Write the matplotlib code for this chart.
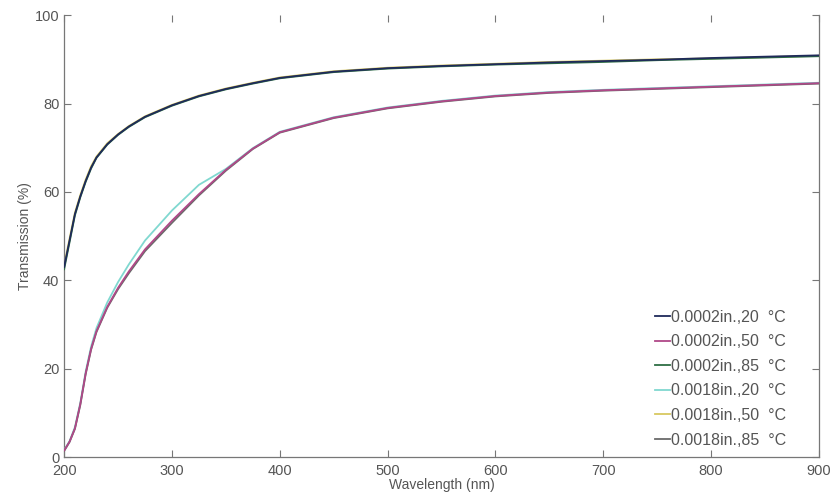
import matplotlib
matplotlib.use("Agg")
import matplotlib.pyplot as plt

plt.rcParams['font.family'] = ['Liberation Sans', 'DejaVu Sans']

wavelength = [200, 205, 210, 215, 220, 225, 230, 240, 250, 260, 275, 300, 325, 350,
              375, 400, 450, 500, 550, 600, 650, 700, 750, 800, 850, 900]

thin_20 = [43.0, 49.0, 55.0, 59.0, 62.5, 65.5, 67.8, 70.8, 73.0, 74.8, 77.0, 79.6, 81.7, 83.3,
           84.6, 85.8, 87.2, 88.0, 88.5, 88.9, 89.3, 89.6, 89.9, 90.3, 90.6, 90.9]
thin_85 = [42.5, 48.6, 54.7, 58.8, 62.3, 65.3, 67.7, 70.7, 72.9, 74.7, 76.9, 79.5, 81.6, 83.2,
           84.5, 85.7, 87.1, 87.9, 88.4, 88.8, 89.1, 89.4, 89.8, 90.1, 90.4, 90.7]
thick_50 = [43.5, 49.4, 55.3, 59.3, 62.8, 65.8, 68.0, 71.0, 73.1, 74.9, 77.1, 79.7, 81.8, 83.4,
            84.7, 85.9, 87.3, 88.1, 88.6, 89.0, 89.4, 89.7, 90.0, 90.2, 90.5, 90.8]

thin_50 = [1.5, 3.5, 6.5, 12.0, 19.0, 24.5, 28.5, 34.0, 38.3, 42.0, 47.0, 53.5, 59.5, 65.0,
           69.8, 73.5, 76.8, 79.0, 80.5, 81.7, 82.5, 83.0, 83.4, 83.8, 84.2, 84.6]
thick_20 = [1.6, 3.6, 6.8, 12.3, 19.4, 25.0, 29.2, 35.0, 39.6, 43.6, 49.0, 55.8, 61.6, 65.2,
            69.9, 73.6, 76.9, 79.1, 80.6, 81.8, 82.6, 83.1, 83.5, 83.9, 84.3, 84.7]
thick_85 = [1.4, 3.4, 6.4, 11.8, 18.8, 24.3, 28.3, 33.8, 38.0, 41.6, 46.6, 53.0, 59.2, 64.8,
            69.7, 73.4, 76.7, 78.9, 80.4, 81.6, 82.4, 82.9, 83.3, 83.7, 84.1, 84.5]

labels = ["0.0002in.,20  \u00b0C", "0.0002in.,50  \u00b0C", "0.0002in.,85  \u00b0C",
          "0.0018in.,20  \u00b0C", "0.0018in.,50  \u00b0C", "0.0018in.,85  \u00b0C"]
series = [thin_20, thin_50, thin_85, thick_20, thick_50, thick_85]
colors = ["#1f2a5a", "#b04888", "#2e6e44", "#80d8d0", "#d8c860", "#6a6a6a"]
zorders = [5, 5, 4, 3, 2, 4]

fig = plt.figure(figsize=(8.33, 5.04), dpi=100)
ax = fig.add_axes([0.077, 0.093, 0.906, 0.877])

for y, c, lab, z in zip(series, colors, labels, zorders):
    ax.plot(wavelength, y, color=c, lw=1.3, label=lab, zorder=z)

ax.set_xlim(200, 900)
ax.set_ylim(0, 100)
ax.set_xticks([200, 300, 400, 500, 600, 700, 800, 900])
ax.set_yticks([0, 20, 40, 60, 80, 100])

gray = "#555555"
for s in ['left', 'bottom', 'right']:
    ax.spines[s].set_color("#777777")
    ax.spines[s].set_linewidth(0.9)
ax.spines['top'].set_visible(False)
ax.tick_params(direction='in', top=True, right=True, length=5, width=0.8,
               colors="#777777", labelcolor=gray, labelsize=10.5)
ax.tick_params(axis='x', pad=5)

ax.set_xlabel("Wavelength (nm)", fontsize=10, color=gray, labelpad=0)
ax.set_ylabel("Transmission (%)", fontsize=10, color=gray, labelpad=2)

leg = ax.legend(loc='lower right', frameon=False, fontsize=11.5, handlelength=0.9,
                handletextpad=0.1, labelspacing=0.6, borderaxespad=0.2,
                bbox_to_anchor=(0.97, 0.0))
for t in leg.get_texts():
    t.set_color(gray)

fig.savefig("out.png", dpi=100)
